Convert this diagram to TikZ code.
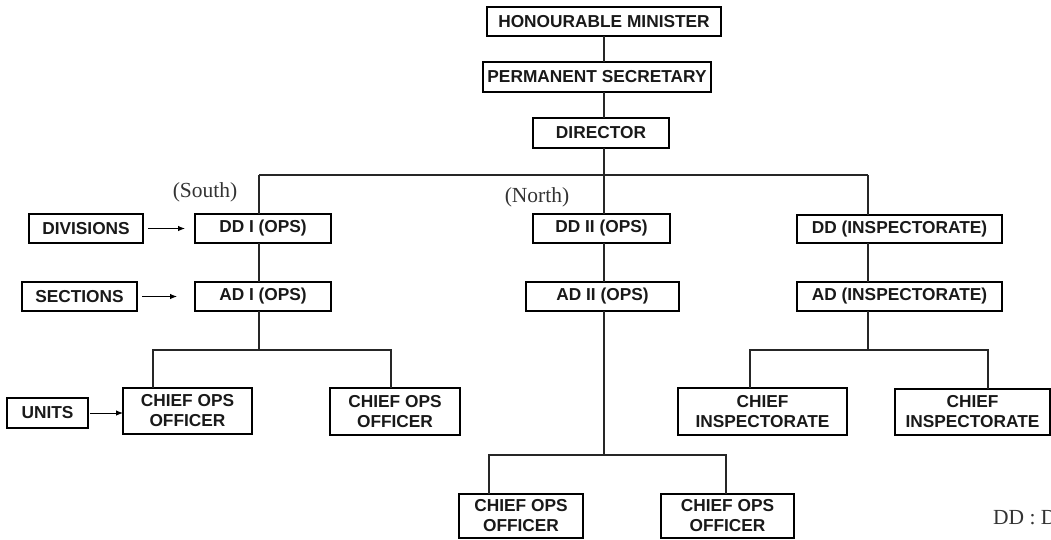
\documentclass[tikz,border=0pt]{standalone}
\usepackage{fontspec}
\setmainfont{Liberation Serif}
\newfontfamily\boxfont{Liberation Sans}
\usetikzlibrary{arrows.meta}
\tikzset{
  orgbox/.style={draw=black, line width=1.2pt, inner sep=0pt, outer sep=0pt, align=center,
    font=\boxfont\fontsize{17.3}{20}\selectfont\bfseries, text=black!90},
  link/.style={draw=black!85, line width=1.2pt},
  pointer/.style={draw=black, line width=0.9pt, -{Latex[length=7pt,width=5.5pt]}},
  region/.style={font=\fontsize{21.5}{24}\selectfont, text=black!80, inner sep=0pt}
}
\begin{document}
\begin{tikzpicture}[x=1pt,y=-1pt]
\useasboundingbox (0,0) rectangle (1051,539);
\clip (0,0) rectangle (1051,539);
% top chain
\node[orgbox, minimum width=234pt, minimum height=29pt] (hm) at (604,21.5) {HONOURABLE MINISTER};
\node[orgbox, minimum width=228pt, minimum height=30pt] (ps) at (597,77) {PERMANENT SECRETARY};
\node[orgbox, minimum width=136pt, minimum height=30pt] (dir) at (601,133) {DIRECTOR};
% deputy directors
\node[orgbox, minimum width=136pt, minimum height=29pt] (dd1) at (263,228.5) {DD I (OPS)};
\node[orgbox, minimum width=137pt, minimum height=29pt] (dd2) at (601.5,228.5) {DD II (OPS)};
\node[orgbox, minimum width=205pt, minimum height=28pt] (ddi) at (899.5,229) {DD (INSPECTORATE)};
% assistant directors
\node[orgbox, minimum width=136pt, minimum height=29pt] (ad1) at (263,296.5) {AD I (OPS)};
\node[orgbox, minimum width=153pt, minimum height=29pt] (ad2) at (602.5,296.5) {AD II (OPS)};
\node[orgbox, minimum width=205pt, minimum height=29pt] (adi) at (899.5,296.5) {AD (INSPECTORATE)};
% legend boxes
\node[orgbox, minimum width=114pt, minimum height=29pt] (div) at (86,228.5) {DIVISIONS};
\node[orgbox, minimum width=115pt, minimum height=29pt] (sec) at (79.5,296.5) {SECTIONS};
\node[orgbox, minimum width=81pt, minimum height=30pt] (units) at (47.5,413) {UNITS};
% chiefs
\node[orgbox, minimum width=129pt, minimum height=46pt] (co1) at (187.5,411) {CHIEF OPS\\OFFICER};
\node[orgbox, minimum width=130pt, minimum height=47pt] (co2) at (395,411.5) {CHIEF OPS\\OFFICER};
\node[orgbox, minimum width=169pt, minimum height=47pt] (ci1) at (762.5,411.5) {CHIEF\\INSPECTORATE};
\node[orgbox, minimum width=155pt, minimum height=46pt] (ci2) at (972.5,412) {CHIEF\\INSPECTORATE};
\node[orgbox, minimum width=124pt, minimum height=44pt] (co3) at (521,516) {CHIEF OPS\\OFFICER};
\node[orgbox, minimum width=133pt, minimum height=44pt] (co4) at (727.5,516) {CHIEF OPS\\OFFICER};
% labels
\node[region] (south) at (205,192) {(South)};
\node[region] (north) at (537,197) {(North)};
\node[region, anchor=west] (note) at (993,518) {DD : D};
% bus coordinates
\coordinate (spine) at (604,0);
\coordinate (busL) at (259,175);
\coordinate (busR) at (868,175);
\coordinate (sL1) at (153,350);
\coordinate (sL2) at (391,350);
\coordinate (sI1) at (750,350);
\coordinate (sI2) at (988,350);
\coordinate (sN1) at (489,455);
\coordinate (sN2) at (726,455);
% connectors
\draw[link] (spine |- hm.south) -- (spine |- ps.north);
\draw[link] (spine |- ps.south) -- (spine |- dir.north);
\draw[link] (spine |- dir.south) -- (spine |- dd2.north);
\draw[link] (busL) -- (busR);
\draw[link] (busL) -- (busL |- dd1.north);
\draw[link] (busR) -- (busR |- ddi.north);
\draw[link] (busL |- dd1.south) -- (busL |- ad1.north);
\draw[link] (spine |- dd2.south) -- (spine |- ad2.north);
\draw[link] (busR |- ddi.south) -- (busR |- adi.north);
% south branch
\draw[link] (busL |- ad1.south) -- (busL |- sL1);
\draw[link] (sL1 |- co1.north) -- (sL1) -- (sL2) -- (sL2 |- co2.north);
% inspectorate branch
\draw[link] (busR |- adi.south) -- (busR |- sI1);
\draw[link] (sI1 |- ci1.north) -- (sI1) -- (sI2) -- (sI2 |- ci2.north);
% north branch
\draw[link] (spine |- ad2.south) -- (spine |- sN1);
\draw[link] (sN1 |- co3.north) -- (sN1) -- (sN2) -- (sN2 |- co4.north);
% pointers
\draw[pointer] ([xshift=5pt]div.east) -- ([xshift=-10pt]dd1.west);
\draw[pointer] ([xshift=5pt]sec.east) -- ([xshift=-18pt]ad1.west);
\draw[pointer] ([xshift=2pt]units.east) -- (co1.west |- units.east);
\end{tikzpicture}
\end{document}
